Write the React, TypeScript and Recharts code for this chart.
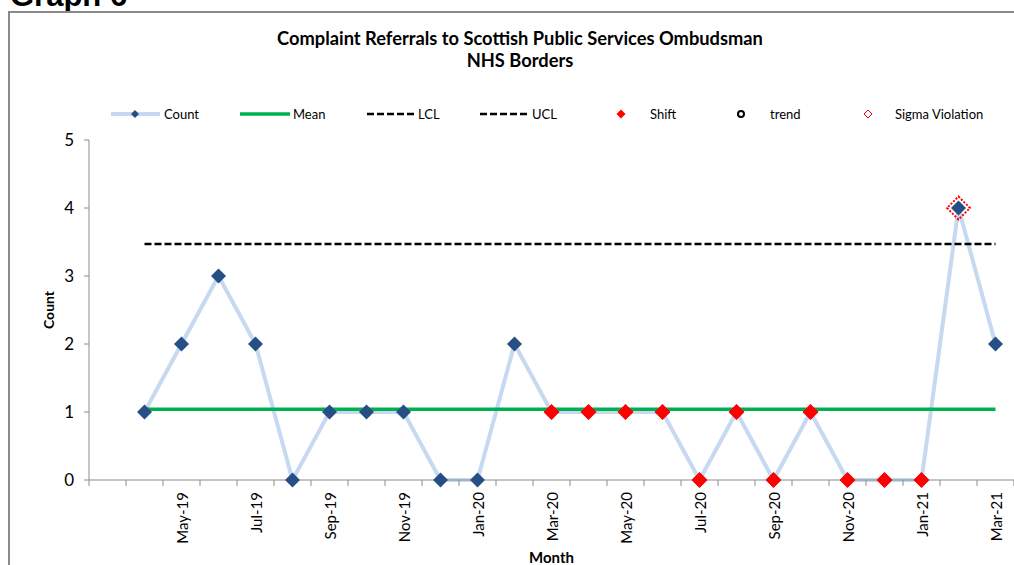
import React from "react";
import { LineChart, Line, XAxis, YAxis } from "recharts";

const months = [
  "Apr-19", "May-19", "Jun-19", "Jul-19", "Aug-19", "Sep-19", "Oct-19", "Nov-19",
  "Dec-19", "Jan-20", "Feb-20", "Mar-20", "Apr-20", "May-20", "Jun-20", "Jul-20",
  "Aug-20", "Sep-20", "Oct-20", "Nov-20", "Dec-20", "Jan-21", "Feb-21", "Mar-21",
];
const counts = [1, 2, 3, 2, 0, 1, 1, 1, 0, 0, 2, 1, 1, 1, 1, 0, 1, 0, 1, 0, 0, 0, 4, 2];
const shiftCounts = [
  null, null, null, null, null, null, null, null, null, null, null,
  1, 1, 1, 1, 0, 1, 0, 1, 0, 0, 0, null, null,
];
const sigmaCounts = [
  null, null, null, null, null, null, null, null, null, null, null, null,
  null, null, null, null, null, null, null, null, null, null, 4, null,
];
const meanValue = 1.04;
const uclValue = 3.47;
const lclValue = -1.39;
const yTicks = [0, 1, 2, 3, 4, 5];
const labelMonths = ["May-19", "Jul-19", "Sep-19", "Nov-19", "Jan-20", "Mar-20", "May-20", "Jul-20", "Sep-20", "Nov-20", "Jan-21", "Mar-21"];

// slot 0 is the empty Mar-19 category, data sits in slots 1..24
const data = months.map((m, i) => ({
  idx: i + 1,
  month: m,
  count: counts[i],
  mean: meanValue,
  ucl: uclValue,
  lcl: lclValue,
  shift: shiftCounts[i],
  sigma: sigmaCounts[i],
}));
const labelTicks = labelMonths.map((m) => months.indexOf(m) + 1);
const boundaryTicks = Array.from({ length: months.length + 2 }, (_, i) => i - 0.5);

const FONT = "Lato, 'Open Sans', sans-serif";
const DASH = "7 3";

function diamond(cx: number, cy: number, r: number) {
  return `M${cx},${cy - r}L${cx + r},${cy}L${cx},${cy + r}L${cx - r},${cy}Z`;
}

const BlueDot = (p: any) =>
  p.cy == null || p.value == null ? <g key={p.key} /> : (
    <path key={p.key} d={diamond(p.cx, p.cy, 7.5)} fill="#264F86" />
  );

const RedDot = (p: any) =>
  p.cy == null || p.value == null ? <g key={p.key} /> : (
    <path key={p.key} d={diamond(p.cx, p.cy, 8)} fill="#FF0000" />
  );

const SigmaDot = (p: any) =>
  p.cy == null || p.value == null ? <g key={p.key} /> : (
    <path key={p.key} d={diamond(p.cx, p.cy, 11.5)} fill="none" stroke="#FF0000" strokeWidth={2} strokeDasharray="2 1.6" />
  );

const MonthTick = ({ x, y, payload }: any) => {
  const label = months[payload.value - 1] ?? "";
  return (
    <text
      x={x}
      y={y}
      transform={`rotate(-90 ${x} ${y})`}
      textAnchor="end"
      dominantBaseline="central"
      fontSize={15}
      fontFamily={FONT}
      fill="#000"
    >
      {label}
    </text>
  );
};

const MonthLabel = ({ viewBox }: any) => (
  <text
    x={viewBox.x + viewBox.width / 2}
    y={viewBox.y + viewBox.height - 2}
    textAnchor="middle"
    fontSize={15}
    fontWeight="bold"
    fontFamily={FONT}
    fill="#000"
  >
    Month
  </text>
);

const CountLabel = ({ viewBox }: any) => {
  const x = viewBox.x + 39;
  const y = viewBox.y + viewBox.height / 2;
  return (
    <text
      x={x}
      y={y}
      transform={`rotate(-90 ${x} ${y})`}
      textAnchor="middle"
      dominantBaseline="central"
      fontSize={14}
      fontWeight="bold"
      fontFamily={FONT}
      fill="#000"
    >
      Count
    </text>
  );
};

function ChartLegend() {
  const ty = 10;
  const txt = { fontSize: 13, fontFamily: FONT, fill: "#000", dominantBaseline: "central" as const };
  return (
    <svg width={1014} height={20} style={{ position: "absolute", left: 0, top: 104 }}>
      <line x1={111} x2={160} y1={ty} y2={ty} stroke="#C6D9F1" strokeWidth={4} />
      <path d={diamond(135, ty, 4)} fill="#264F86" />
      <text x={164} y={ty} {...txt}>Count</text>
      <line x1={240} x2={290} y1={ty} y2={ty} stroke="#00B050" strokeWidth={3.5} />
      <text x={293} y={ty} {...txt}>Mean</text>
      <line x1={367} x2={415} y1={ty} y2={ty} stroke="#000" strokeWidth={2.5} strokeDasharray={DASH} />
      <text x={418} y={ty} {...txt}>LCL</text>
      <line x1={480} x2={528} y1={ty} y2={ty} stroke="#000" strokeWidth={2.5} strokeDasharray={DASH} />
      <text x={532} y={ty} {...txt}>UCL</text>
      <path d={diamond(621, ty, 4.5)} fill="#FF0000" />
      <text x={650} y={ty} {...txt}>Shift</text>
      <circle cx={741} cy={ty} r={3} fill="none" stroke="#000" strokeWidth={2} />
      <text x={770} y={ty} {...txt}>trend</text>
      <path d={diamond(868, ty, 4)} fill="none" stroke="#FF0000" strokeWidth={1} />
      <text x={895} y={ty} {...txt}>Sigma Violation</text>
    </svg>
  );
}

export default function App() {
  return (
    <div
      style={{
        position: "absolute",
        left: 0,
        top: 0,
        width: 1014,
        height: 565,
        overflow: "hidden",
        background: "#fff",
        fontFamily: FONT,
      }}
    >
      <div
        style={{
          position: "absolute",
          left: 10,
          top: -20,
          fontFamily: "'Liberation Sans', Arial, sans-serif",
          fontWeight: "bold",
          fontSize: 31,
          lineHeight: 1,
          color: "#000",
        }}
      >
        Graph 6
      </div>
      <div
        style={{
          position: "absolute",
          left: 8,
          top: 11,
          width: 1100,
          height: 600,
          border: "2px solid #8a8a8a",
        }}
      />
      <div
        style={{
          position: "absolute",
          left: 8,
          width: 1024,
          top: 27,
          textAlign: "center",
          fontWeight: "bold",
          fontSize: 18.3,
          lineHeight: "22px",
          color: "#000",
        }}
      >
        Complaint Referrals to Scottish Public Services Ombudsman
        <br />
        NHS Borders
      </div>
      <ChartLegend />
      <div style={{ position: "absolute", left: 0, top: 0 }}>
        <LineChart
          width={1014}
          height={565}
          data={data}
          margin={{ top: 140, right: 0, bottom: 0, left: 9 }}
        >
          <XAxis
            xAxisId="a"
            dataKey="idx"
            type="number"
            domain={[-0.5, months.length + 0.5]}
            ticks={boundaryTicks}
            tickFormatter={() => ""}
            tickSize={6}
            height={1}
            stroke="#8c8c8c"
          />
          <XAxis
            xAxisId="b"
            dataKey="idx"
            type="number"
            domain={[-0.5, months.length + 0.5]}
            ticks={labelTicks}
            tick={<MonthTick />}
            tickLine={false}
            axisLine={false}
            tickSize={0}
            tickMargin={11}
            height={84}
            interval={0}
            label={<MonthLabel />}
          />
          <YAxis
            domain={[0, 5]}
            ticks={yTicks}
            width={80}
            tickSize={5}
            tickMargin={10}
            stroke="#8c8c8c"
            tick={{ fill: "#000", fontSize: 17, fontFamily: FONT }}
            label={<CountLabel />}
          />
          <YAxis yAxisId="lcl" domain={[0, 5]} hide allowDataOverflow />
          <Line
            xAxisId="b"
            dataKey="count"
            type="linear"
            stroke="#C6D9F1"
            strokeWidth={4}
            dot={BlueDot}
            activeDot={false}
            isAnimationActive={false}
          />
          <Line
            xAxisId="b"
            dataKey="mean"
            type="linear"
            stroke="#00B050"
            strokeWidth={3.5}
            dot={false}
            activeDot={false}
            isAnimationActive={false}
          />
          <Line
            xAxisId="b"
            dataKey="ucl"
            type="linear"
            stroke="#000"
            strokeWidth={2.5}
            strokeDasharray={DASH}
            dot={false}
            activeDot={false}
            isAnimationActive={false}
          />
          <Line
            xAxisId="b"
            yAxisId="lcl"
            dataKey="lcl"
            type="linear"
            stroke="#000"
            strokeWidth={2.5}
            strokeDasharray={DASH}
            dot={false}
            activeDot={false}
            isAnimationActive={false}
          />
          <Line
            xAxisId="b"
            dataKey="shift"
            type="linear"
            stroke="none"
            dot={RedDot}
            activeDot={false}
            isAnimationActive={false}
          />
          <Line
            xAxisId="b"
            dataKey="sigma"
            type="linear"
            stroke="none"
            dot={SigmaDot}
            activeDot={false}
            isAnimationActive={false}
          />
        </LineChart>
      </div>
    </div>
  );
}
